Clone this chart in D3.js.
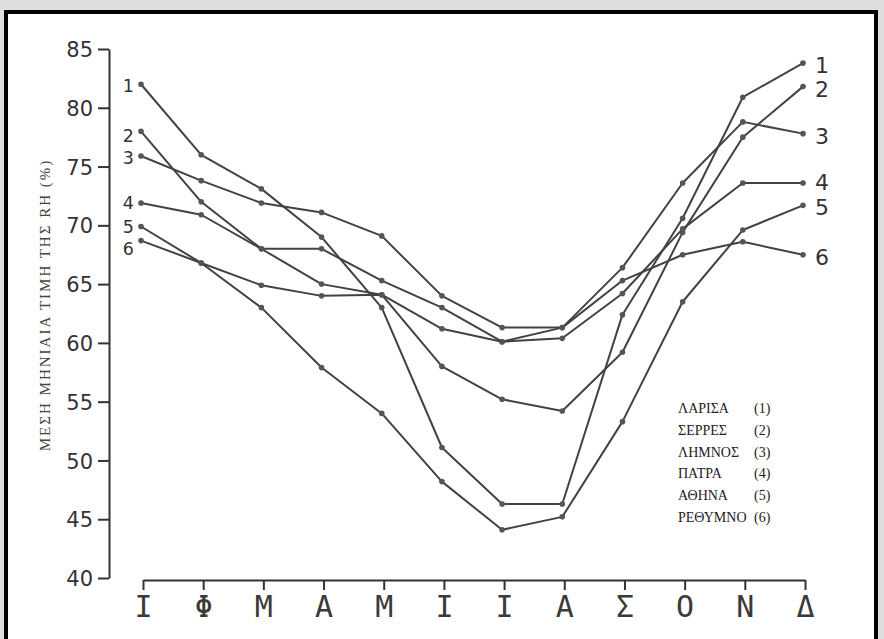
<!DOCTYPE html>
<html>
<head>
<meta charset="utf-8">
<script src="https://cdn.jsdelivr.net/npm/d3@7"></script>
<style>
  body { margin: 0; background: #dedede; }
  .y-axis text { font-family: "DejaVu Sans"; font-size: 21px; fill: #333; }
  .x-axis text { font-family: "DejaVu Sans Mono"; font-size: 30px; fill: #3a3a3a; }
  .legend text { font-family: "Liberation Serif"; font-size: 14px; fill: #222; }
</style>
</head>
<body>
<div id="wrapper"></div>
<script>
// month initials (Greek)
const months = ["Ι", "Φ", "Μ", "Α", "Μ", "Ι", "Ι", "Α", "Σ", "Ο", "Ν", "Δ"];
const stations = ["ΛΑΡΙΣΑ", "ΣΕΡΡΕΣ", "ΛΗΜΝΟΣ", "ΠΑΤΡΑ", "ΑΘΗΝΑ", "ΡΕΘΥΜΝΟ"];
const yTicks = [40, 45, 50, 55, 60, 65, 70, 75, 80, 85];

// mean monthly RH (%)
const larisa   = [82.0, 76.0, 73.1, 69.0, 63.0, 51.1, 46.3, 46.3, 62.4, 70.6, 80.9, 83.8];
const serres   = [78.0, 72.0, 68.0, 65.0, 64.1, 58.0, 55.2, 54.2, 59.2, 69.4, 77.5, 81.8];
const limnos   = [75.9, 73.8, 71.9, 71.1, 69.1, 64.0, 61.3, 61.3, 66.4, 73.6, 78.8, 77.8];
const patra    = [71.9, 70.9, 68.0, 68.0, 65.3, 63.0, 60.1, 60.4, 64.2, 69.7, 73.6, 73.6];
const athina   = [69.9, 66.8, 63.0, 57.9, 54.0, 48.2, 44.1, 45.2, 53.3, 63.5, 69.6, 71.7];
const rethymno = [68.7, 66.8, 64.9, 64.0, 64.1, 61.2, 60.1, 61.3, 65.3, 67.5, 68.6, 67.5];

const series = [larisa, serres, limnos, patra, athina, rethymno];

// small vertical nudges for the end numbers, so they don't collide
const leftNudge  = [1, 4, 2, 0, 0, 8];
const rightNudge = [2, 2, 2, -1, 2, 2];

const W = 884, H = 639;
const svg = d3.select("#wrapper").append("svg")
  .attr("width", W).attr("height", H);

// scanned page frame
svg.append("rect")
  .attr("x", 6).attr("y", 12)
  .attr("width", 870).attr("height", 640)
  .attr("fill", "#fff")
  .attr("stroke", "#000")
  .attr("stroke-width", 4);

const xScale = d3.scalePoint()
  .domain(d3.range(months.length))
  .range([141, 803]);

const yScale = d3.scaleLinear()
  .domain([40, 85])
  .range([578, 49]);

// y axis
const yAxis = d3.axisLeft(yScale)
  .tickValues(yTicks)
  .tickSize(11)
  .tickSizeOuter(0)
  .tickPadding(5);

const gy = svg.append("g")
  .attr("class", "y-axis")
  .attr("transform", "translate(109,0)")
  .call(yAxis);
gy.select(".domain").attr("stroke", "#333").attr("stroke-width", 2);
gy.selectAll(".tick line").attr("stroke", "#333").attr("stroke-width", 2);
gy.selectAll(".tick text").attr("dy", "0.36em");

// x axis, drawn below the plot
const xAxis = d3.axisBottom(xScale)
  .tickFormat(i => months[i])
  .tickSize(10)
  .tickSizeOuter(0)
  .tickPadding(6);

const gx = svg.append("g")
  .attr("class", "x-axis")
  .attr("transform", "translate(2,580)")
  .call(xAxis);
gx.select(".domain").attr("stroke", "#333").attr("stroke-width", 2);
gx.selectAll(".tick line").attr("stroke", "#333").attr("stroke-width", 2);

// y axis title
svg.append("text")
  .attr("transform", "translate(50,305) rotate(-90)")
  .attr("text-anchor", "middle")
  .style("font-family", "Liberation Serif")
  .style("font-size", "15px")
  .style("letter-spacing", "2px")
  .style("fill", "#444")
  .text("ΜΕΣΗ ΜΗΝΙΑΙΑ ΤΙΜΗ ΤΗΣ RH (%)");

// lines
const line = d3.line()
  .x((d, i) => xScale(i))
  .y(d => yScale(d));

const lines = svg.selectAll(".g-series")
  .data(series)
  .enter()
  .append("g")
  .attr("class", "g-series");

lines.append("path")
  .attr("d", d => line(d))
  .attr("fill", "none")
  .attr("stroke", "#454045")
  .attr("stroke-width", 2)
  .attr("stroke-linejoin", "round");

lines.selectAll("circle")
  .data(d => d)
  .enter()
  .append("circle")
  .attr("cx", (d, i) => xScale(i))
  .attr("cy", d => yScale(d))
  .attr("r", 2.8)
  .attr("fill", "#555");

// series numbers at both ends
lines.append("text")
  .attr("x", xScale(0) - 7)
  .attr("y", (d, i) => yScale(d[0]) + leftNudge[i])
  .attr("dy", "0.36em")
  .attr("text-anchor", "end")
  .style("font-family", "DejaVu Sans")
  .style("font-size", "17.5px")
  .style("fill", "#333")
  .text((d, i) => i + 1);

lines.append("text")
  .attr("x", xScale(months.length - 1) + 12)
  .attr("y", (d, i) => yScale(d[d.length - 1]) + rightNudge[i])
  .attr("dy", "0.36em")
  .style("font-family", "DejaVu Sans")
  .style("font-size", "22px")
  .style("fill", "#333")
  .text((d, i) => i + 1);

// legend
const legend = svg.append("g").attr("class", "legend");
const rows = legend.selectAll("g")
  .data(stations)
  .enter()
  .append("g")
  .attr("transform", (d, i) => "translate(678," + (413 + i * 21.8) + ")");
rows.append("text").text(d => d);
rows.append("text").attr("x", 76).text((d, i) => "(" + (i + 1) + ")");
</script>
</body>
</html>
